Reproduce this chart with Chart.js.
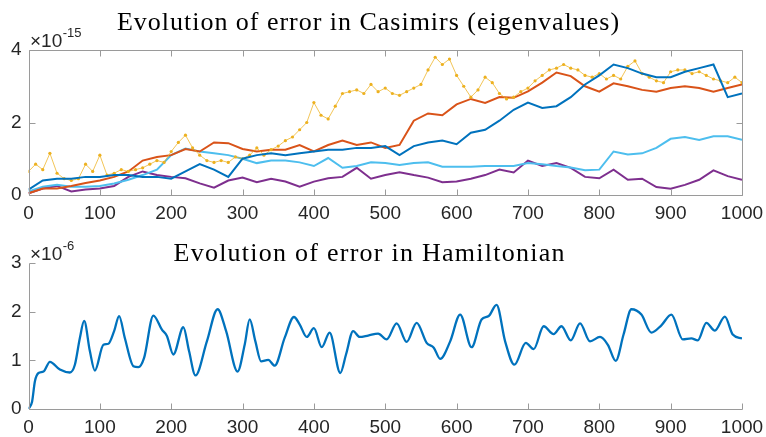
<!DOCTYPE html>
<html>
<head>
<meta charset="utf-8">
<title>Casimir and Hamiltonian error</title>
<script src="https://cdn.jsdelivr.net/npm/chart.js@4.4.0/dist/chart.umd.min.js"></script>
<style>
  html, body { margin: 0; padding: 0; background: #fff; }
  #wrap { position: relative; width: 766px; height: 437px; overflow: hidden; }
  #casimirChart { position: absolute; left: 0; top: 0; }
  #hamChart { position: absolute; left: 0; top: 225px; }
</style>
</head>
<body>
<div id="wrap">
  <canvas id="casimirChart" width="766" height="225"></canvas>
  <canvas id="hamChart" width="766" height="212"></canvas>
</div>
<script>
// x samples (steps)
const stepX = [0, 20, 40, 60, 80, 100, 120, 140, 160, 180,
  200, 220, 240, 260, 280, 300, 320, 340, 360, 380,
  400, 420, 440, 460, 480, 500, 520, 540, 560, 580,
  600, 620, 640, 660, 680, 700, 720, 740, 760, 780,
  800, 820, 840, 860, 880, 900, 920, 940, 960, 980, 1000];
const fineX = [0, 10, 20, 30, 40, 50, 60, 70, 80, 90,
  100, 110, 120, 130, 140, 150, 160, 170, 180, 190,
  200, 210, 220, 230, 240, 250, 260, 270, 280, 290,
  300, 310, 320, 330, 340, 350, 360, 370, 380, 390,
  400, 410, 420, 430, 440, 450, 460, 470, 480, 490,
  500, 510, 520, 530, 540, 550, 560, 570, 580, 590,
  600, 610, 620, 630, 640, 650, 660, 670, 680, 690,
  700, 710, 720, 730, 740, 750, 760, 770, 780, 790,
  800, 810, 820, 830, 840, 850, 860, 870, 880, 890,
  900, 910, 920, 930, 940, 950, 960, 970, 980, 990, 1000];

// Casimir errors (x 1e-15)
const casimirBlue = [0.15, 0.4, 0.45, 0.45, 0.5, 0.5, 0.55, 0.55, 0.5, 0.5,
  0.45, 0.65, 0.85, 0.7, 0.5, 1.0, 1.1, 1.15, 1.1, 1.15,
  1.2, 1.25, 1.25, 1.3, 1.3, 1.35, 1.1, 1.35, 1.45, 1.5,
  1.4, 1.72, 1.8, 2.05, 2.35, 2.55, 2.4, 2.45, 2.7, 3.05,
  3.3, 3.6, 3.5, 3.35, 3.25, 3.25, 3.4, 3.5, 3.6, 2.7, 2.8];
const casimirOrange = [0.05, 0.18, 0.18, 0.25, 0.33, 0.4, 0.5, 0.65, 0.95, 1.05,
  1.1, 1.27, 1.2, 1.45, 1.43, 1.27, 1.2, 1.25, 1.25, 1.38,
  1.2, 1.38, 1.5, 1.38, 1.45, 1.3, 1.38, 2.05, 2.25, 2.2,
  2.5, 2.65, 2.54, 2.7, 2.68, 2.86, 3.1, 3.38, 3.28, 3.0,
  2.85, 3.08, 3.0, 2.9, 2.85, 2.95, 3.0, 2.95, 2.85, 2.95, 3.05];
const casimirYellow = [0.65, 0.85, 0.7, 1.15, 0.6, 0.45, 0.4, 0.45, 0.85, 0.65,
  1.1, 0.55, 0.6, 0.7, 0.65, 0.7, 0.75, 0.85, 0.95, 0.9,
  1.2, 1.45, 1.65, 1.3, 1.1, 0.95, 0.9, 0.95, 0.9, 1.05,
  1.0, 1.1, 1.3, 1.1, 1.25, 1.35, 1.5, 1.6, 1.8, 2.0,
  2.55, 2.2, 2.1, 2.45, 2.8, 2.85, 2.9, 2.8, 3.05, 2.85,
  2.95, 2.8, 2.75, 2.85, 2.95, 3.05, 3.45, 3.8, 3.6, 3.75,
  3.3, 3.0, 2.7, 2.9, 3.25, 3.1, 2.8, 2.65, 2.7, 2.85,
  2.95, 3.15, 3.3, 3.45, 3.5, 3.6, 3.5, 3.45, 3.3, 3.25,
  3.35, 3.2, 3.3, 3.2, 3.55, 3.7, 3.35, 3.25, 3.15, 3.1,
  3.4, 3.45, 3.45, 3.35, 3.4, 3.3, 3.2, 3.15, 3.1, 3.25, 3.1];
const casimirLightBlue = [0.1, 0.23, 0.28, 0.23, 0.23, 0.25, 0.32, 0.42, 0.55, 0.7,
  1.1, 1.28, 1.2, 1.15, 1.1, 1.0, 0.88, 0.95, 0.95, 0.9,
  0.8, 1.02, 0.75, 0.8, 0.9, 0.88, 0.83, 0.88, 0.9, 0.78,
  0.78, 0.78, 0.8, 0.8, 0.8, 0.88, 0.85, 0.8, 0.76, 0.68,
  0.7, 1.2, 1.12, 1.15, 1.3, 1.55, 1.6, 1.52, 1.62, 1.62, 1.52];
const casimirPurple = [0.05, 0.18, 0.25, 0.1, 0.15, 0.18, 0.25, 0.5, 0.65, 0.55,
  0.5, 0.46, 0.32, 0.2, 0.4, 0.48, 0.35, 0.45, 0.37, 0.23,
  0.37, 0.46, 0.5, 0.75, 0.45, 0.55, 0.63, 0.55, 0.48, 0.35,
  0.37, 0.45, 0.55, 0.7, 0.62, 0.95, 0.8, 0.88, 0.75, 0.5,
  0.46, 0.7, 0.42, 0.45, 0.22, 0.17, 0.28, 0.42, 0.68, 0.52, 0.42];

// Hamiltonian error (x 1e-6), read at turning points
const hamX = [0, 5, 9, 14, 21, 30, 44, 58, 65, 72,
  78, 86, 93, 105, 112, 120, 127, 135, 147, 154,
  162, 175, 187, 194, 203, 217, 225, 234, 250, 265,
  277, 293, 303, 310, 318, 326, 336, 345, 359, 372,
  380, 390, 400, 411, 422, 437, 445, 455, 464, 476,
  490, 502, 516, 530, 544, 558, 568, 577, 591, 605,
  621, 635, 645, 656, 668, 681, 697, 708, 722, 736,
  747, 760, 773, 787, 801, 812, 823, 834, 845, 859,
  873, 887, 901, 917, 929, 938, 950, 962, 976, 987, 1000];
const hamY = [0, 0.15, 0.57, 0.74, 0.77, 0.97, 0.81, 0.75, 0.91, 1.46,
  1.81, 1.19, 0.79, 1.32, 1.34, 1.6, 1.91, 1.46, 0.88, 0.86,
  1.05, 1.92, 1.63, 1.5, 1.12, 1.68, 1.19, 0.69, 1.39, 2.05,
  1.6, 0.77, 1.32, 1.84, 1.39, 0.98, 1.01, 0.89, 1.46, 1.89,
  1.74, 1.48, 1.66, 1.27, 1.57, 0.74, 1.12, 1.6, 1.48, 1.51,
  1.55, 1.43, 1.76, 1.38, 1.77, 1.36, 1.26, 1.03, 1.39, 1.94,
  1.27, 1.84, 1.91, 2.14, 1.39, 0.91, 1.36, 1.23, 1.70, 1.54,
  1.70, 1.41, 1.76, 1.39, 1.48, 1.32, 0.99, 1.53, 2.05, 1.94,
  1.57, 1.72, 1.94, 1.43, 1.45, 1.41, 1.77, 1.61, 1.90, 1.53, 1.45];

// tick labels
const xTicks = [0, 100, 200, 300, 400, 500, 600, 700, 800, 900, 1000];
const casimirTicks = [0, 2, 4];
const hamTicks = [0, 1, 2, 3];

const pts = (xs, ys) => xs.map((x, i) => ({ x: x, y: ys[i] }));

// MATLAB-like axes: inward ticks, optional box, title and exponent label
const axisFrame = {
    id: 'axisFrame',
    afterDraw(chart, args, o) {
        const { ctx, chartArea: a, scales } = chart;
        const L = Math.round(a.left) + 0.5, R = Math.round(a.right) + 0.5;
        const T = Math.round(a.top) + 0.5, B = Math.round(a.bottom) + 0.5;
        ctx.save();
        ctx.strokeStyle = '#9a9a9a';
        ctx.lineWidth = 1;
        ctx.beginPath();
        ctx.moveTo(L, T); ctx.lineTo(L, B); ctx.lineTo(R, B);
        if (o.box) { ctx.lineTo(R, T); ctx.lineTo(L, T); }
        scales.x.ticks.forEach(t => {
            const px = Math.round(scales.x.getPixelForValue(t.value)) + 0.5;
            ctx.moveTo(px, B); ctx.lineTo(px, B - 6);
            if (o.box) { ctx.moveTo(px, T); ctx.lineTo(px, T + 6); }
        });
        scales.y.ticks.forEach(t => {
            const py = Math.round(scales.y.getPixelForValue(t.value)) + 0.5;
            ctx.moveTo(L, py); ctx.lineTo(L + 6, py);
            if (o.box) { ctx.moveTo(R, py); ctx.lineTo(R - 6, py); }
        });
        ctx.stroke();

        // title, stretched with letter spacing to the reference width
        ctx.fillStyle = '#000';
        ctx.font = '26px "Liberation Serif"';
        ctx.textAlign = 'left';
        ctx.textBaseline = 'alphabetic';
        const raw = ctx.measureText(o.title).width;
        const gap = (o.titleWidth - raw) / (o.title.length - 1);
        ctx.letterSpacing = gap.toFixed(2) + 'px';
        ctx.fillText(o.title, o.titleCenter - o.titleWidth / 2, o.titleY);
        ctx.letterSpacing = '0px';

        ctx.fillStyle = '#262626';
        ctx.font = '19px "Liberation Sans"';
        ctx.fillText('\u00d710', a.left + 1.5, a.top - 3.5);
        const w = ctx.measureText('\u00d710').width;
        ctx.font = '13px "Liberation Sans"';
        ctx.fillText(o.exponent, a.left + 2 + w, a.top - 13);
        ctx.restore();
    }
};

const tickFont = { family: '"Liberation Sans", Arial, sans-serif', size: 19 };

function makeScales(yMax, yTicks, xHeight) {
    return {
        x: {
            type: 'linear', min: 0, max: 1000,
            afterBuildTicks: s => { s.ticks = xTicks.map(v => ({ value: v })); },
            // fixed axis height, and no extra side padding for the end labels
            afterFit: s => { s.height = xHeight; s.paddingLeft = 0; s.paddingRight = 0; },
            grid: { display: false, drawTicks: false },
            border: { display: false },
            ticks: { color: '#262626', font: tickFont, padding: 7, maxRotation: 0, autoSkip: false,
                     callback: v => String(v) }
        },
        y: {
            min: 0, max: yMax,
            afterBuildTicks: s => { s.ticks = yTicks.map(v => ({ value: v })); },
            afterFit: s => { s.width = 28.5; s.paddingTop = 0; s.paddingBottom = 0; },
            grid: { display: false, drawTicks: false },
            border: { display: false },
            ticks: { color: '#262626', font: tickFont, padding: 7, autoSkip: false,
                     callback: v => String(v) }
        }
    };
}

new Chart(document.getElementById('casimirChart'), {
    type: 'line',
    data: {
        datasets: [
            {
                data: pts(stepX, casimirBlue),
                borderColor: '#0072BD', borderWidth: 2, pointRadius: 0
            },
            {
                data: pts(fineX, casimirYellow),
                borderColor: 'rgba(237,177,32,0.75)', backgroundColor: '#EDB120',
                borderWidth: 1, pointRadius: 1.6, pointBorderWidth: 0
            },
            {
                data: pts(stepX, casimirOrange),
                borderColor: '#D95319', borderWidth: 2, pointRadius: 0
            },
            {
                data: pts(stepX, casimirLightBlue),
                borderColor: '#4DBEEE', borderWidth: 2, pointRadius: 0
            },
            {
                data: pts(stepX, casimirPurple),
                borderColor: '#7E2F8E', borderWidth: 2, pointRadius: 0
            }
        ]
    },
    options: {
        responsive: false,
        animation: false,
        layout: { padding: { top: 50, right: 24, left: 0, bottom: 0 } },
        plugins: {
            legend: { display: false },
            tooltip: { enabled: false },
            axisFrame: { box: true, title: 'Evolution of error in Casimirs (eigenvalues)',
                         titleY: 29.5, titleCenter: 368, titleWidth: 502, exponent: '-15' }
        },
        scales: makeScales(4, casimirTicks, 30)
    },
    plugins: [axisFrame]
});

new Chart(document.getElementById('hamChart'), {
    type: 'line',
    data: {
        datasets: [{
            data: pts(hamX, hamY),
            borderColor: '#0072BD',
            borderWidth: 2.3,
            pointRadius: 0,
            cubicInterpolationMode: 'monotone'
        }]
    },
    options: {
        responsive: false,
        animation: false,
        layout: { padding: { top: 38, right: 24, left: 0, bottom: 0 } },
        plugins: {
            legend: { display: false },
            tooltip: { enabled: false },
            axisFrame: { box: false, title: 'Evolution of error in Hamiltonian',
                         titleY: 36, titleCenter: 369, titleWidth: 391, exponent: '-6' }
        },
        scales: makeScales(3, hamTicks, 28)
    },
    plugins: [axisFrame]
});
</script>
</body>
</html>
